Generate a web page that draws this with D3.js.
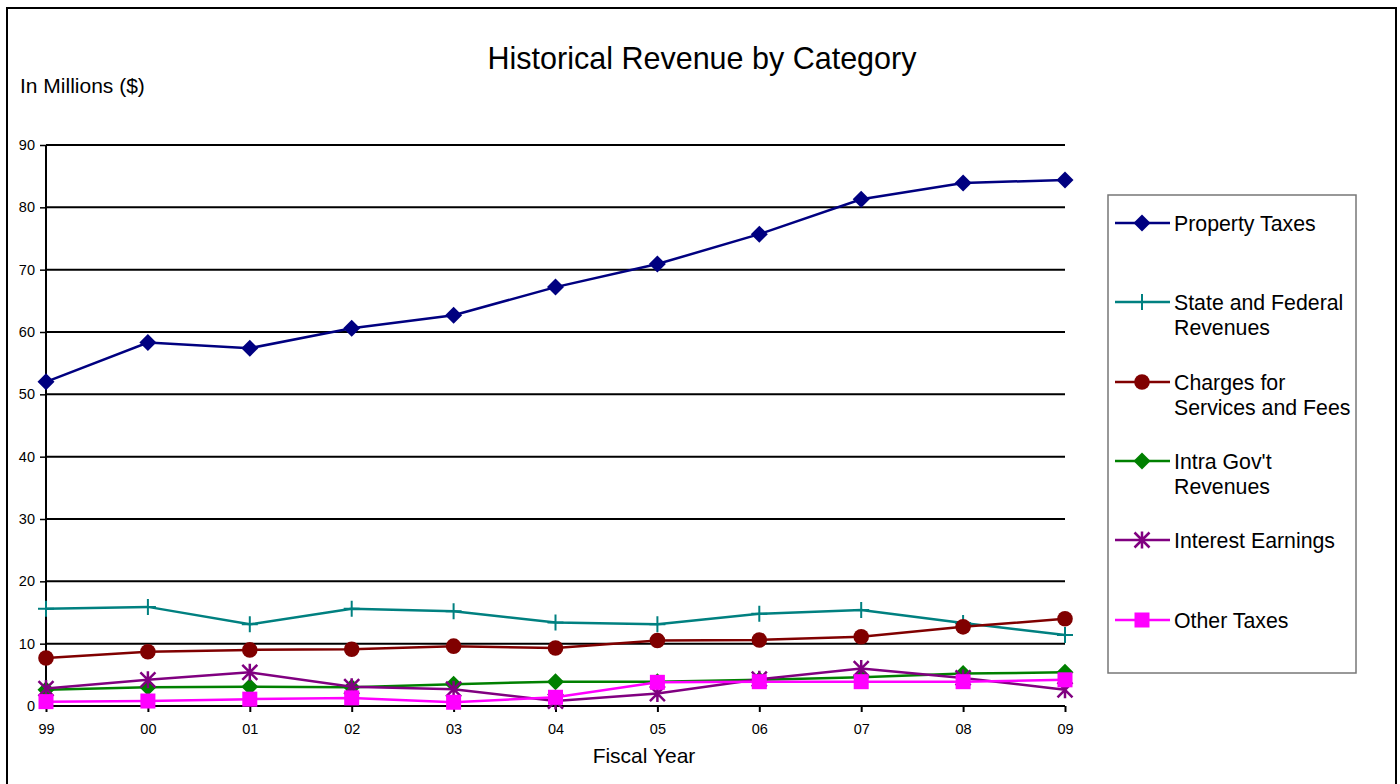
<!DOCTYPE html>
<html>
<head>
<meta charset="utf-8">
<script src="https://cdn.jsdelivr.net/npm/d3@7"></script>
<style>
  html, body { margin: 0; padding: 0; background: #fff; }
  svg { display: block; font-family: "Liberation Sans", Arial, sans-serif; }
</style>
</head>
<body>
<svg id="chart" width="1400" height="784"></svg>
<script>
// Fiscal years (two-digit labels)
const years = ["99", "00", "01", "02", "03", "04", "05", "06", "07", "08", "09"];

// Revenue by category, in millions of dollars
const propertyTaxes   = [52.0, 58.3, 57.4, 60.6, 62.7, 67.2, 70.9, 75.7, 81.3, 83.9, 84.4];
const stateFederal    = [15.6, 15.9, 13.1, 15.6, 15.2, 13.4, 13.1, 14.8, 15.4, 13.3, 11.4];
const chargesServices = [7.7, 8.7, 9.0, 9.1, 9.6, 9.3, 10.5, 10.6, 11.1, 12.7, 14.0];
const intraGov        = [2.6, 3.0, 3.1, 3.0, 3.5, 3.9, 3.9, 4.2, 4.6, 5.2, 5.4];
const interestEarn    = [2.8, 4.2, 5.4, 3.1, 2.7, 0.8, 2.0, 4.3, 6.0, 4.5, 2.6];
const otherTaxes      = [0.7, 0.8, 1.1, 1.3, 0.6, 1.4, 3.8, 3.9, 3.9, 3.9, 4.2];

const yTicks = [0, 10, 20, 30, 40, 50, 60, 70, 80, 90];

const series = [
  { name: ["Property Taxes"], values: propertyTaxes, color: "#000080", marker: "diamond" },
  { name: ["State and Federal", "Revenues"], values: stateFederal, color: "#008080", marker: "plus" },
  { name: ["Charges for", "Services and Fees"], values: chargesServices, color: "#800000", marker: "circle" },
  { name: ["Intra Gov't", "Revenues"], values: intraGov, color: "#008000", marker: "diamond" },
  { name: ["Interest Earnings"], values: interestEarn, color: "#800080", marker: "star" },
  { name: ["Other Taxes"], values: otherTaxes, color: "#FF00FF", marker: "square" }
];

const svg = d3.select("#chart");

// Outer frame
svg.append("rect")
  .attr("x", 7).attr("y", 8).attr("width", 1389).attr("height", 790)
  .attr("fill", "#fff").attr("stroke", "#000").attr("stroke-width", 2);

const plot = { left: 46, right: 1065, top: 145, bottom: 706 };

const x = d3.scalePoint().domain(years).range([plot.left, plot.right]);
const y = d3.scaleLinear().domain([0, 90]).range([plot.bottom, plot.top]);

// Title and axis captions
svg.append("text").attr("x", 702).attr("y", 69).attr("text-anchor", "middle")
  .attr("font-size", 30.5).text("Historical Revenue by Category");
svg.append("text").attr("x", 20).attr("y", 93).attr("font-size", 21)
  .text("In Millions ($)");
svg.append("text").attr("x", 644).attr("y", 763).attr("text-anchor", "middle")
  .attr("font-size", 21).text("Fiscal Year");

// Horizontal gridlines
svg.append("g").selectAll("line").data(yTicks.filter(d => d > 0)).join("line")
  .attr("x1", plot.left).attr("x2", plot.right)
  .attr("y1", d => y(d)).attr("y2", d => y(d))
  .attr("stroke", "#000").attr("stroke-width", 2);

// Y axis
const yAxis = svg.append("g").attr("transform", `translate(${plot.left},0)`)
  .call(d3.axisLeft(y).tickValues(yTicks).tickSize(6).tickPadding(5).tickFormat(d3.format("d")));
yAxis.select(".domain").attr("stroke", "#000").attr("stroke-width", 2).attr("d", `M0,${plot.top}V${plot.bottom}`);
yAxis.selectAll(".tick line").attr("stroke", "#000").attr("stroke-width", 1.5);
yAxis.selectAll(".tick text").attr("font-size", 14.5).attr("fill", "#000")
  .attr("font-family", "Liberation Sans, Arial, sans-serif");

// X axis
const xAxis = svg.append("g").attr("transform", `translate(0,${plot.bottom})`)
  .call(d3.axisBottom(x).tickSize(6).tickPadding(12));
xAxis.select(".domain").attr("stroke", "#000").attr("stroke-width", 2).attr("d", `M${plot.left},0H${plot.right}`);
xAxis.selectAll(".tick line").attr("stroke", "#000").attr("stroke-width", 2);
xAxis.selectAll(".tick text").attr("font-size", 14.5).attr("fill", "#000")
  .attr("font-family", "Liberation Sans, Arial, sans-serif");

// Marker drawing helper
function drawMarker(g, type, color, cx, cy) {
  if (type === "diamond") {
    const h = 8.5;
    g.append("path").attr("d", `M${cx},${cy - h}L${cx + h},${cy}L${cx},${cy + h}L${cx - h},${cy}Z`)
      .attr("fill", color);
  } else if (type === "circle") {
    g.append("circle").attr("cx", cx).attr("cy", cy).attr("r", 7.8).attr("fill", color);
  } else if (type === "square") {
    const h = 7.5;
    g.append("rect").attr("x", cx - h).attr("y", cy - h).attr("width", 2 * h).attr("height", 2 * h)
      .attr("fill", color);
  } else if (type === "plus") {
    const h = 8;
    g.append("path").attr("d", `M${cx - h},${cy}H${cx + h}M${cx},${cy - h}V${cy + h}`)
      .attr("stroke", color).attr("stroke-width", 2).attr("fill", "none");
  } else if (type === "star") {
    const h = 7.5;
    g.append("path").attr("d",
      `M${cx - h},${cy - h}L${cx + h},${cy + h}M${cx + h},${cy - h}L${cx - h},${cy + h}M${cx},${cy - h - 1}V${cy + h + 1}`)
      .attr("stroke", color).attr("stroke-width", 2.5).attr("fill", "none");
  }
}

const line = d3.line().x((d, i) => x(years[i])).y(d => y(d));

// Series lines and markers
series.forEach(s => {
  const g = svg.append("g");
  g.append("path").datum(s.values).attr("d", line)
    .attr("fill", "none").attr("stroke", s.color).attr("stroke-width", 2.5);
  s.values.forEach((v, i) => drawMarker(g, s.marker, s.color, x(years[i]), y(v)));
});

// Legend
const legend = svg.append("g");
legend.append("rect").attr("x", 1108).attr("y", 195).attr("width", 248).attr("height", 478)
  .attr("fill", "#fff").attr("stroke", "#777").attr("stroke-width", 1.5);
const legendY = [223, 302, 382, 461, 540, 620];
series.forEach((s, i) => {
  const ly = legendY[i];
  const g = legend.append("g");
  g.append("line").attr("x1", 1115).attr("x2", 1170).attr("y1", ly).attr("y2", ly)
    .attr("stroke", s.color).attr("stroke-width", 2.5);
  drawMarker(g, s.marker, s.color, 1142, ly);
  const t = g.append("text").attr("x", 1174).attr("y", ly + 8).attr("font-size", 21.3);
  s.name.forEach((n, j) => t.append("tspan").attr("x", 1174).attr("dy", j === 0 ? 0 : 25).text(n));
});
</script>
</body>
</html>
